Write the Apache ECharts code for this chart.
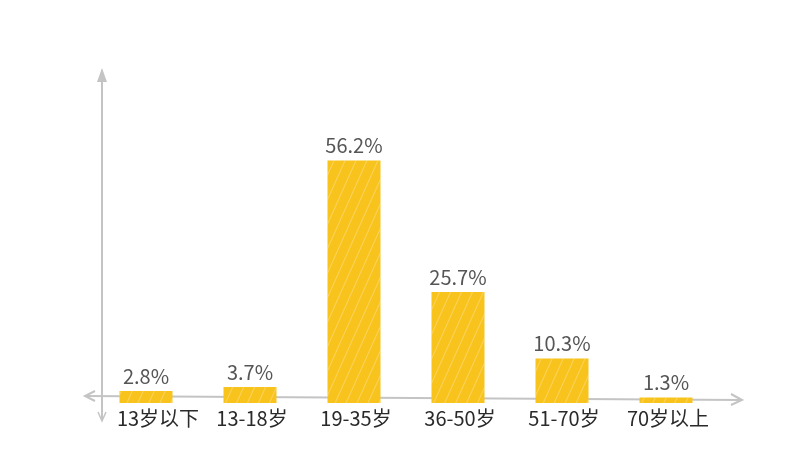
<!DOCTYPE html>
<html><head><meta charset="utf-8">
<script src="https://cdn.jsdelivr.net/npm/echarts@6/dist/echarts.min.js"></script>
<style>html,body{margin:0;padding:0;background:#fff}#c{width:800px;height:450px}</style>
</head><body><div id="c"></div>
<script>
const categories = ['13岁以下','13-18岁','19-35岁','36-50岁','51-70岁','70岁以上'];
const values = [2.8, 3.7, 56.2, 25.7, 10.3, 1.3];

const chart = echarts.init(document.getElementById('c'));
const axisColor = '#c4c4c4';
const font = '"Noto Sans CJK SC","Noto Sans",sans-serif';
chart.setOption({
  backgroundColor: '#fff',
  animation: false,
  grid: { left: 94, right: 82, top: 144, bottom: 47 },
  xAxis: {
    type: 'category',
    data: categories.map((c, i) => i === 0 ? { value: c, textStyle: { padding: [0, 0, 0, 24] } } : { value: c, textStyle: { padding: [0, 0, 0, 4] } }),
    axisLine: { show: false }, axisTick: { show: false },
    axisLabel: { interval: 0, color: '#2a2a2a', fontSize: 20, fontFamily: font, margin: 5 }
  },
  yAxis: { type: 'value', min: 0, max: 60, show: false },
  graphic: [
    { type: 'polyline', shape: { points: [[85, 396], [742, 400]] }, style: { stroke: axisColor, lineWidth: 2, fill: null } },
    { type: 'polyline', shape: { points: [[95, 391], [85, 396], [95, 401]] }, style: { stroke: axisColor, lineWidth: 2, fill: null } },
    { type: 'polyline', shape: { points: [[731, 394], [742, 400], [731, 405]] }, style: { stroke: axisColor, lineWidth: 2, fill: null } },
    { type: 'polyline', shape: { points: [[102, 70], [102, 420]] }, style: { stroke: axisColor, lineWidth: 2, fill: null } },
    { type: 'polygon', shape: { points: [[102, 68], [97, 82], [107, 82]] }, style: { fill: axisColor } },
    { type: 'polyline', shape: { points: [[98, 412], [102, 421], [106, 412]] }, style: { stroke: axisColor, lineWidth: 1.5, fill: null } }
  ],
  series: [{
    type: 'bar', data: values, barWidth: 53,
    itemStyle: {
      color: '#f8c31c',
      decal: { symbol: 'rect', symbolSize: 1, dashArrayX: [1, 0], dashArrayY: [1, 9], rotation: -1.15, color: 'rgba(255,255,255,0.28)' }
    },
    label: {
      show: true, position: 'top', distance: 5,
      formatter: p => p.value + '%',
      color: '#555', fontSize: 20, fontFamily: font
    }
  }]
});
</script></body></html>
